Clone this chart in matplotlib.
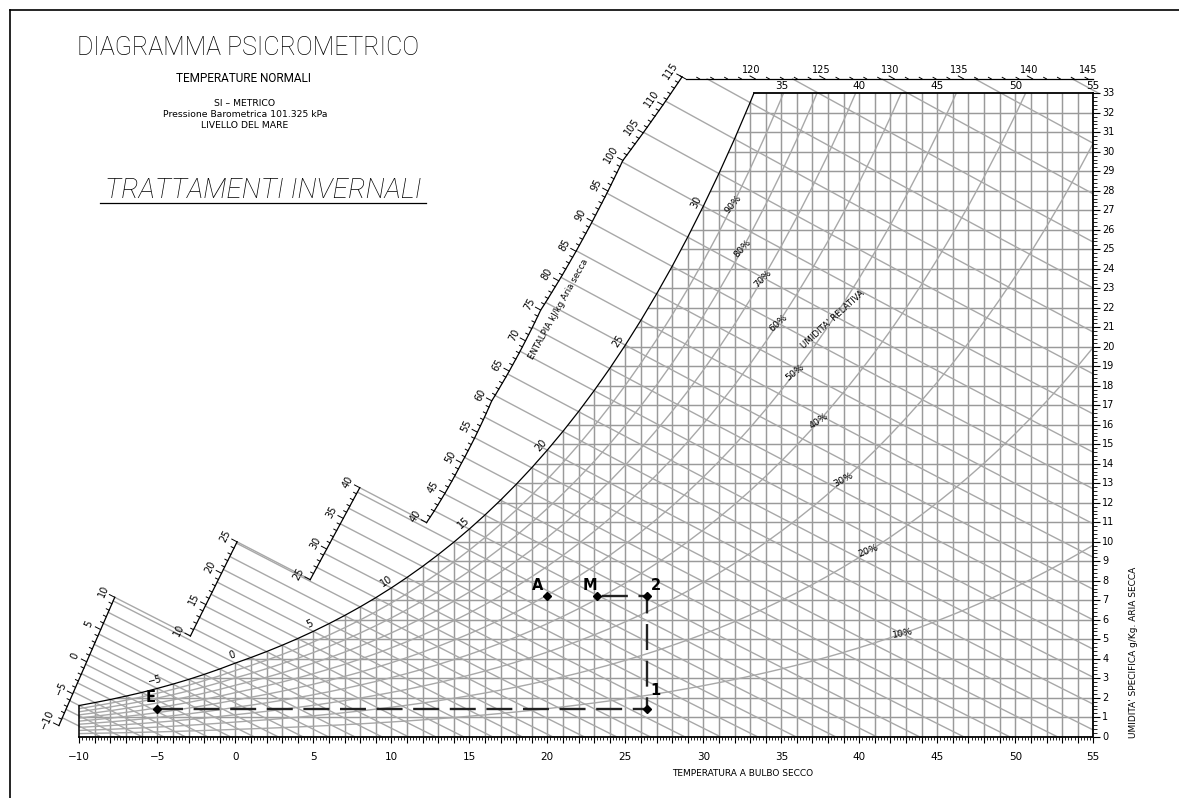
import numpy as np
import matplotlib
matplotlib.use("Agg")
import matplotlib.pyplot as plt
from matplotlib.patches import Polygon
from matplotlib.lines import Line2D

# saturation pressure of water vapour (kPa), over ice below 0 C
T_TAB = np.arange(-13, 56)
PSAT_TAB = np.array([
    0.1983, 0.2172, 0.2377, 0.2600, 0.2844, 0.3102, 0.3381, 0.3681, 0.4017,
    0.4375, 0.4760, 0.5177, 0.5626, 0.6112, 0.6571, 0.7060, 0.7581, 0.8135,
    0.8726, 0.9354, 1.0021, 1.0730, 1.1482, 1.2282, 1.3129, 1.4028, 1.4981,
    1.5989, 1.7057, 1.8188, 1.9383, 2.0647, 2.1982, 2.3392, 2.4881, 2.6452,
    2.8109, 2.9856, 3.1697, 3.3637, 3.5679, 3.7828, 4.0089, 4.2467, 4.4966,
    4.7592, 5.0351, 5.3247, 5.6286, 5.9475, 6.2818, 6.6324, 6.9997, 7.3844,
    7.7873, 8.2090, 8.6503, 9.1118, 9.5944, 10.0988, 10.6259, 11.1764,
    11.7512, 12.3513, 12.9774, 13.6305, 14.3116, 15.0215, 15.7614])
P_ATM = 101.325

RH_LEVELS = [10, 20, 30, 40, 50, 60, 70, 80, 90]
RH_LABEL_T = [42.8, 40.6, 39.0, 37.4, 35.9, 34.8, 33.8, 32.5, 31.9]
WB_TEMPS = np.arange(-12, 38)
WB_LABELS = [-5, 0, 5, 10, 15, 20, 25, 30]
X_TICKS = np.arange(-10, 56, 5)
TOP_TICKS = [35, 40, 45, 50, 55]
Y_TICKS = np.arange(0, 34)

PT_NAMES = ["E", "1", "2", "M", "A"]
PT_T = [-5.0, 26.4, 26.4, 23.2, 20.0]
PT_W = [1.4, 1.4, 7.2, 7.2, 7.2]
PROCESS = ["E", "1", "2", "M"]

# enthalpy scale pieces (kJ/kg): straight ones with ends in (t, W), then curved, then top
H_PIECES = [(-10, 10, (-11.28, 0.62), (-7.88, 6.87)),
            (10, 25, (-3.06, 4.87), (0.28, 10.26)),
            (25, 40, (4.9, 8.2), (7.98, 12.77))]
H_CURVE = [40, 50, 60, 75, 100, 115]
H_CURVE_DT = [2.0, 3.2, 4.3, 5.1, 5.2, 4.1]
H_TOP = (115, 145)
W_TOP = 33.74

# pixel scale of the drawing
SX, SY = 15.6, 19.497
XMIN = -10 - 79.3 / SX
YMIN = -(798 - 736.7) / SY
XMAX = XMIN + 1179 / SX
YMAX = YMIN + 798 / SY

GRID = "#9a9a9a"
THIN = "#a8a8a8"

WS_TAB = 622.0 * PSAT_TAB / (P_ATM - PSAT_TAB)
HS_TAB = 1.006 * T_TAB + WS_TAB / 1000 * (2501 + 1.86 * T_TAB)


def ws(t):
    p = np.interp(t, T_TAB, PSAT_TAB)
    return 622.0 * p / (P_ATM - p)


def w_rh(phi, t):
    p = phi * np.interp(t, T_TAB, PSAT_TAB)
    return 622.0 * p / (P_ATM - p)


def w_wb(tw, t):
    wk = ws(tw) / 1000
    return 1000 * ((2501 - 2.326 * tw) * wk - 1.006 * (t - tw)) / (2501 + 1.86 * t - 4.186 * tw)


def t_wb_at(tw, w):
    wk = ws(tw) / 1000
    w2 = w / 1000
    return ((2501 - 2.326 * tw) * wk + 1.006 * tw - w2 * (2501 - 4.186 * tw)) / (1.86 * w2 + 1.006)


def tw_of_h(h):
    return np.interp(h, HS_TAB, T_TAB)


def ang(dt, dw):
    return np.degrees(np.arctan2(dw * SY, dt * SX))


def out_dir(tw, t, length):
    # up-left along the wet bulb line, length in pixels
    m = (w_wb(tw, t + 0.1) - w_wb(tw, t - 0.1)) / 0.2
    vx, vy = -SX, -m * SY
    n = np.hypot(vx, vy)
    return length * vx / n / SX, length * vy / n / SY


def scale_point(h, piece):
    tw = tw_of_h(h)
    if piece == "top":
        return t_wb_at(tw, W_TOP), W_TOP, tw
    if piece == "curve":
        t = tw - np.interp(h, H_CURVE, H_CURVE_DT)
        return t, w_wb(tw, t), tw
    p0, p1 = piece[2], piece[3]
    s = np.linspace(-0.3, 1.3, 1601)
    ts = p0[0] + s * (p1[0] - p0[0])
    wv = p0[1] + s * (p1[1] - p0[1])
    si = np.interp(0, wv - w_wb(tw, ts), s)
    return p0[0] + si * (p1[0] - p0[0]), p0[1] + si * (p1[1] - p0[1]), tw


PIECES = [(p[0], p[1], p) for p in H_PIECES] + [(40, 115, "curve"), (H_TOP[0], H_TOP[1], "top")]


def piece_for(h):
    for h0, h1, pc in PIECES:
        if h0 <= h <= h1:
            return pc
    return None


fig = plt.figure(figsize=(11.79, 7.98), dpi=100)
ax = fig.add_axes([0, 0, 1, 1])
ax.set_xlim(XMIN, XMAX)
ax.set_ylim(YMIN, YMAX)
ax.axis("off")

# chart region (below saturation)
t33 = np.interp(33, WS_TAB, T_TAB)
tc = T_TAB[(T_TAB >= -10) & (T_TAB <= 33)]
sat_t = np.append(tc, t33)
sat_w = np.append(ws(tc), 33.0)
region = [(-10, 0), (55, 0), (55, 33)] + list(zip(sat_t[::-1], sat_w[::-1]))
clip = Polygon(region, closed=True, facecolor="none", edgecolor="none")
ax.add_patch(clip)

# grid
for t in range(-9, 55):
    ln, = ax.plot([t, t], [0, 33], color=GRID, lw=1.05, zorder=1)
    ln.set_clip_path(clip)
for w in range(1, 33):
    ln, = ax.plot([-10, 55], [w, w], color=GRID, lw=1.05, zorder=1)
    ln.set_clip_path(clip)

# relative humidity curves
tr = T_TAB[T_TAB >= -10]
for phi in RH_LEVELS:
    ln, = ax.plot(tr, w_rh(phi / 100, tr), color=THIN, lw=1.0, zorder=1)
    ln.set_clip_path(clip)
for phi, t in zip(RH_LEVELS, RH_LABEL_T):
    w = w_rh(phi / 100, t)
    a = ang(1, w_rh(phi / 100, t + 0.3) - w_rh(phi / 100, t - 0.3))
    ax.text(t, w, f"{phi}%", rotation=a, ha="center", va="center", fontsize=6.8,
            rotation_mode="anchor", zorder=4)
t_lab = 38.3
a = ang(1, w_rh(0.5, t_lab + 0.3) - w_rh(0.5, t_lab - 0.3))
ax.text(t_lab, w_rh(0.5, t_lab), "UMIDITA' RELATIVA", rotation=a, ha="center", va="center",
        fontsize=6.2, rotation_mode="anchor", zorder=4)

# wet bulb lines, from the enthalpy scale across the chart
for tw in WB_TEMPS:
    h = np.interp(tw, T_TAB, HS_TAB)
    pc = piece_for(h)
    if pc is None:
        continue
    ts, w0, _ = scale_point(h, pc)
    t_in = t_wb_at(tw, 33.0) if ws(tw) > 33 else max(tw, -10)
    if ts < t_in:
        tt = np.linspace(ts, t_in, 20)
        ax.plot(tt, w_wb(tw, tt), color=THIN, lw=1.0, zorder=1)
    tt = np.linspace(max(t_in, ts), 58, 120)
    ln, = ax.plot(tt, w_wb(tw, tt), color=THIN, lw=1.0, zorder=1)
    ln.set_clip_path(clip)

# joins between scale pieces
for i, hb in enumerate([10, 25, 40]):
    a0 = scale_point(hb, PIECES[i][2])
    a1 = scale_point(hb, PIECES[i + 1][2])
    ax.plot([a0[0], a1[0]], [a0[1], a1[1]], color=THIN, lw=1.0, zorder=1)

# enthalpy scales
for h0, h1, pc in PIECES:
    hs = np.arange(h0, h1 + 1)
    pts = np.array([scale_point(h, pc) for h in hs])
    if pc == "top":
        ax.plot([pts[0, 0], 55], [W_TOP, W_TOP], color="black", lw=0.9, zorder=3)
    else:
        ax.plot(pts[:, 0], pts[:, 1], color="black", lw=0.9, zorder=3)
    for k, h in enumerate(hs):
        t, w, tw = pts[k]
        if pc == "top" and t > 55.2:
            if h % 5 == 0:
                ax.text(55 - 5 / SX, w + 9 / SY, str(h), ha="center", va="center",
                        fontsize=7, zorder=4)
            continue
        L = 6 if h % 5 == 0 else 3.2
        dx, dy = out_dir(tw, t, L)
        ax.plot([t, t + dx], [w, w + dy], color="black", lw=0.7, zorder=3)
        if h % 5 != 0 or (pc == "top" and h == h0):
            continue
        if pc == "top":
            ax.text(t - 4 / SX, w + 9 / SY, str(h), ha="center", va="center",
                    fontsize=7, zorder=4)
        else:
            k0, k1 = max(k - 1, 0), min(k + 1, len(hs) - 1)
            rot = ang(pts[k1, 0] - pts[k0, 0], pts[k1, 1] - pts[k0, 1])
            dx, dy = out_dir(tw, t, 13)
            ax.text(t + dx, w + dy, str(h).replace("-", "\u2212"), rotation=rot, ha="center",
                    va="center", fontsize=7, rotation_mode="anchor", zorder=4)

ax.text(20.7, 21.9, "ENTALPIA kJ/kg Aria secca", rotation=61, ha="center", va="center",
        fontsize=6.3, rotation_mode="anchor")

# saturation curve and frame
ax.plot(sat_t, sat_w, color="black", lw=0.9, zorder=3)
ax.plot([-10, 55, 55], [0, 0, 33], color="black", lw=1.3, zorder=3)
ax.plot([t33, 55], [33, 33], color="black", lw=1.3, zorder=3)
ax.plot([-10, -10], [0, ws(-10)], color="black", lw=1.1, zorder=3)

# wet bulb labels on the saturation curve
for tw in WB_LABELS:
    a = ang(1, ws(tw + 0.5) - ws(tw - 0.5))
    r = np.radians(a)
    ox, oy = -np.sin(r) * 8 / SX, np.cos(r) * 8 / SY
    ax.text(tw + ox, ws(tw) + oy, str(tw).replace("-", "\u2212"), rotation=a, ha="center",
            va="center", fontsize=7, rotation_mode="anchor", zorder=4)

# axis ticks
tx = np.round(np.arange(-10, 55.01, 0.2), 1)
major = np.isclose(tx, np.round(tx))
ax.vlines(tx[~major], 0, -3.5 / SY, color="black", lw=0.6)
ax.vlines(tx[major], 0, -6.5 / SY, color="black", lw=0.8)
wy = np.round(np.arange(0, 33.01, 0.2), 1)
wmaj = np.isclose(wy, np.round(wy))
ax.hlines(wy[~wmaj], 55, 55 + 4 / SX, color="black", lw=0.6)
ax.hlines(wy[wmaj], 55, 55 + 7 / SX, color="black", lw=0.8)

for t in X_TICKS:
    ax.text(t, -20.5 / SY, str(t).replace("-", "\u2212"), ha="center", va="center", fontsize=7.5)
for t in TOP_TICKS:
    ax.text(t, 33 + 7 / SY, str(t), ha="center", va="center", fontsize=7.5)
for w in Y_TICKS:
    ax.text(55 + 9 / SX, w, str(w), ha="left", va="center", fontsize=7)

ax.text(32.5, -37 / SY, "TEMPERATURA A BULBO SECCO", ha="center", va="center", fontsize=6.5)
ax.text(55 + 40 / SX, 4.3, "UMIDITA' SPECIFICA g/Kg. ARIA SECCA", rotation=90, ha="center",
        va="center", fontsize=6.5)

# process
px = dict(zip(PT_NAMES, PT_T))
py = dict(zip(PT_NAMES, PT_W))
ax.plot([px[n] for n in PROCESS], [py[n] for n in PROCESS], color="#222222", lw=1.7,
        dashes=(11, 4.5), zorder=5)
ax.plot(PT_T, PT_W, ls="none", marker="D", ms=4, color="black", zorder=6)
offs = {"E": (-7, 12), "1": (8, 19), "2": (9, 11), "M": (-7, 11), "A": (-10, 11)}
for n in PT_NAMES:
    ox, oy = offs[n]
    ax.text(px[n] + ox / SX, py[n] + oy / SY, n, ha="center", va="center", fontsize=10.5,
            fontweight="bold", zorder=6)

# titles
fig.text(248 / 1179, 1 - 48 / 798, "DIAGRAMMA PSICROMETRICO", ha="center", va="center",
         fontsize=18, family="Roboto", fontweight="light")
fig.text(244 / 1179, 1 - 78 / 798, "TEMPERATURE NORMALI", ha="center", va="center",
         fontsize=8.5, family="Roboto")
fig.text(245 / 1179, 1 - 103 / 798, "SI \u2013 METRICO", ha="center", va="center", fontsize=6.7)
fig.text(245 / 1179, 1 - 114.5 / 798, "Pressione Barometrica 101.325 kPa", ha="center",
         va="center", fontsize=6.7)
fig.text(245 / 1179, 1 - 126 / 798, "LIVELLO DEL MARE", ha="center", va="center", fontsize=6.7)
fig.text(263 / 1179, 1 - 190 / 798, "TRATTAMENTI INVERNALI", ha="center", va="center",
         fontsize=20, family="Roboto", fontweight="light", style="italic")
fig.add_artist(Line2D([100 / 1179, 426 / 1179], [1 - 203 / 798, 1 - 203 / 798], color="black", lw=0.9))

# sheet border
fig.add_artist(Line2D([10 / 1179, 10 / 1179], [0, 1 - 10 / 798], color="black", lw=1.2))
fig.add_artist(Line2D([10 / 1179, 1], [1 - 10 / 798, 1 - 10 / 798], color="black", lw=1.2))

fig.savefig("out.png", dpi=100)
